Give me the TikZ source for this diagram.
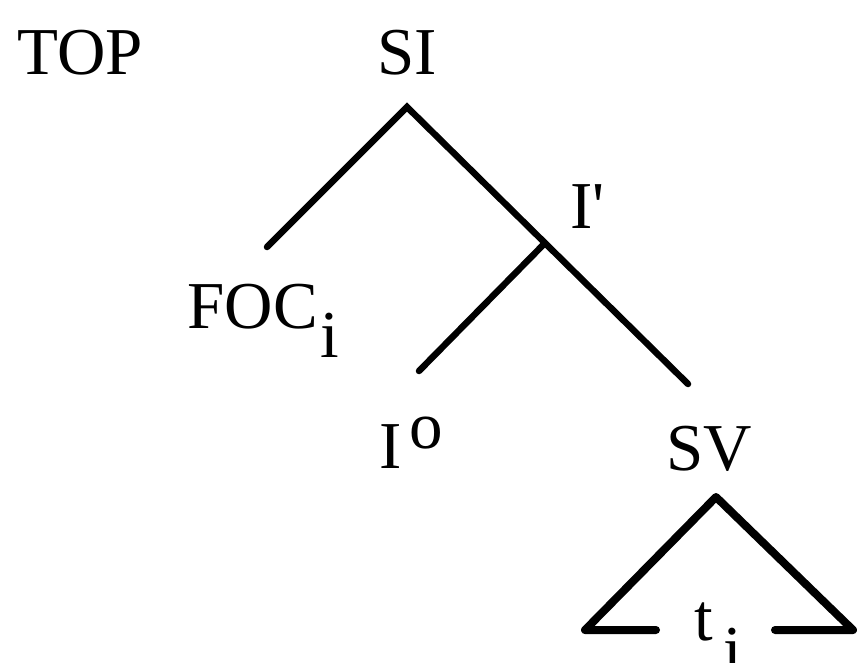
\documentclass[tikz,border=0pt]{standalone}
\usepackage{fontspec}
\setmainfont{Liberation Serif}
\begin{document}
\begin{tikzpicture}[x=1pt,y=-1pt,
  lbl/.style={inner sep=0pt,anchor=base,font=\fontsize{67}{69}\selectfont},
  branch/.style={line width=6.5pt,line cap=round},
  tri/.style={line width=8pt,line join=round,line cap=round}]
\useasboundingbox (0,0) rectangle (861,663);
\node[lbl] (top) at (80,75) {TOP};
\node[lbl] (si) at (407,75) {SI};
\node[lbl,anchor=base west] (ibar) at (570,228) {I\textquotesingle};
\node[lbl,anchor=base east] (foc) at (318,328) {FOC};
\node[lbl,anchor=base west] (focsub) at (320,357) {i};
\node[lbl,anchor=base east] (io) at (402,468) {I};
\node[lbl,anchor=base west] (iosup) at (409,448) {o};
\node[lbl] (sv) at (709,470) {SV};
\node[lbl,anchor=base east] (ti) at (713,640) {t};
\node[lbl,anchor=base west] (tisub) at (723,672) {i};
\coordinate (siv) at (407,107);
\coordinate (focend) at (267,247);
\coordinate (junc) at (544,244);
\coordinate (svend) at (688,384);
\coordinate (ioend) at (419,371);
\coordinate (apex) at (716,497);
\coordinate (bl) at (585,630);
\coordinate (br) at (853,630);
\coordinate (bl2) at (656,630);
\coordinate (br2) at (775,630);
\draw[branch] (focend) -- (siv) -- (svend);
\draw[branch] (junc) -- (ioend);
\draw[tri] (bl2) -- (bl) -- (apex) -- (br) -- (br2);
\end{tikzpicture}
\end{document}
